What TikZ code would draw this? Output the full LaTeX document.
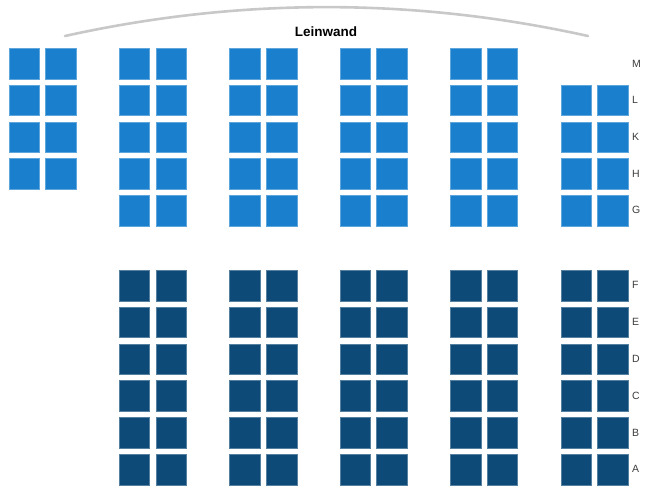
\documentclass[tikz,border=0pt]{standalone}
\usepackage{fontspec}
\setmainfont{Liberation Sans}
\definecolor{seatlight}{RGB}{26,128,206}
\definecolor{seatdark}{RGB}{14,74,120}
\definecolor{screengray}{RGB}{200,200,200}
\definecolor{labelgray}{RGB}{60,60,60}
\begin{document}
\begin{tikzpicture}[x=1pt,y=-1pt,
  seatbase/.style={rectangle,inner sep=0pt,minimum size=30.5pt,anchor=north west},
  seatup/.style={seatbase,fill=seatlight,draw=seatlight!70!white,line width=0.4pt},
  seatlow/.style={seatbase,fill=seatdark,draw=seatdark!70!white,line width=0.4pt},
  rowlabel/.style={anchor=west,inner sep=0pt,font=\fontsize{10.5}{12}\selectfont,text=labelgray},
  screentitle/.style={inner sep=0pt,font=\fontsize{13.5}{15}\selectfont\bfseries,text=black}]
\useasboundingbox (0,0) rectangle (650,500);
% screen
\coordinate (scrL) at (65,36);
\coordinate (scrR) at (588,36);
\draw[screengray,line width=2.6pt,line cap=round] (scrL) .. controls (239,-2.5) and (414,-2.5) .. (scrR);
\node[screentitle] (leinwand) at (326,31.5) {Leinwand};
% upper seats
\foreach \b/\rs/\re in {0/0/3,1/0/4,2/0/4,3/0/4,4/0/4,5/1/4}{
  \foreach \r in {\rs,...,\re}{
    \foreach \c in {0,1}{
      \node[seatup] (u-\b-\c-\r) at ({8.5+110.4*\b+36.7*\c},{48.3+36.7*\r}) {};
    }
  }
}
% lower seats
\foreach \b in {1,...,5}{
  \foreach \r in {0,...,5}{
    \foreach \c in {0,1}{
      \node[seatlow] (l-\b-\c-\r) at ({8.5+110.4*\b+36.7*\c},{270+36.8*\r}) {};
    }
  }
}
% row labels
\foreach \t [count=\i from 0] in {M,L,K,H,G}{
  \node[rowlabel] (lab-\t) at (632,{63.55+36.7*\i}) {\t};
}
\foreach \t [count=\i from 0] in {F,E,D,C,B,A}{
  \node[rowlabel] (lab-\t) at (632,{285.25+36.8*\i}) {\t};
}
\end{tikzpicture}
\end{document}
